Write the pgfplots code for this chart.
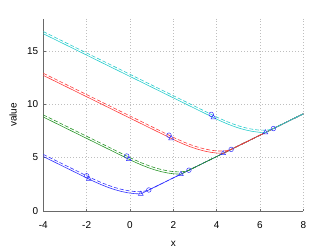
\documentclass[border=0pt]{standalone}
\usepackage{pgfplots}
\pgfplotsset{compat=1.18}
\usepackage{fontspec}
\setmainfont{Liberation Sans}
\definecolor{cblue}{RGB}{50,50,255}
\definecolor{cgreen}{RGB}{40,150,40}
\definecolor{cred}{RGB}{255,60,60}
\definecolor{ccyan}{RGB}{40,205,205}
\definecolor{caxis}{RGB}{105,105,105}
\definecolor{cgrid}{RGB}{190,190,190}
\begin{document}
\begin{tikzpicture}
\path[use as bounding box] (-43.3bp,-41bp) rectangle (292.7bp,211bp);
\begin{axis}[
  scale only axis, width=260bp, height=192.2bp,
  xmin=-4, xmax=8, ymin=0, ymax=18,
  axis x line=bottom, axis y line=left,
  axis line style={caxis, line width=0.6bp, -},
  xtick={-4,-2,0,2,4,6,8}, xticklabels={-4,-2,0,2,4,6,8},
  ytick={0,5,10,15}, yticklabels={0,5,10,15},
  tick align=inside, major tick length=2.5bp,
  tick style={caxis, line width=0.5bp},
  grid=major,
  major grid style={cgrid, line width=0.5bp, dash pattern=on 1bp off 2bp},
  font=\fontsize{10}{12}\selectfont,
  xticklabel style={yshift=-7.5bp},
  yticklabel style={xshift=-1.5bp},
  xlabel={x}, ylabel={value},
  every axis x label/.style={at={(axis description cs:0.5,0)}, anchor=center, yshift=-33bp},
  every axis y label/.style={at={(axis description cs:-0.1165,0.5)}, rotate=90, anchor=center},
  clip=false,
]
% blue
\addplot[cblue, line width=0.6bp] coordinates {(-4,5.1) (-1.9,3.0) (-1.6,2.71) (-1.3,2.444) (-1.0,2.205) (-0.7,2.0) (-0.4,1.832) (-0.1,1.706) (0.2,1.627) (0.5,1.6) (8,9.1)};
\addplot[cblue, line width=0.6bp, dash pattern=on 4bp off 2bp] coordinates {(-4,5.3) (-2.0,3.3) (-1.9,3.2) (-1.6,2.91) (-1.3,2.644) (-1.0,2.405) (-0.7,2.2) (-0.4,2.032) (-0.1,1.906) (0.2,1.827) (0.45,1.815) (0.65,1.85) (0.87,1.97) (8,9.1)};
% green
\addplot[cgreen, line width=0.6bp] coordinates {(-4,8.8) (-0.05,4.85) (0.25,4.56) (0.55,4.294) (0.85,4.055) (1.15,3.85) (1.45,3.682) (1.75,3.556) (2.05,3.477) (2.35,3.45) (8,9.1)};
\addplot[cgreen, line width=0.6bp, dash pattern=on 4bp off 2bp] coordinates {(-4,9.0) (-0.15,5.15) (-0.05,5.05) (0.25,4.76) (0.55,4.494) (0.85,4.255) (1.15,4.05) (1.45,3.882) (1.75,3.756) (2.05,3.677) (2.3,3.665) (2.5,3.70) (2.72,3.82) (8,9.1)};
% red
\addplot[cred, line width=0.6bp] coordinates {(-4,12.7) (1.9,6.8) (2.2,6.51) (2.5,6.244) (2.8,6.005) (3.1,5.8) (3.4,5.632) (3.7,5.506) (4.0,5.427) (4.3,5.4) (8,9.1)};
\addplot[cred, line width=0.6bp, dash pattern=on 4bp off 2bp] coordinates {(-4,12.9) (1.8,7.1) (1.9,7.0) (2.2,6.71) (2.5,6.444) (2.8,6.205) (3.1,6.0) (3.4,5.832) (3.7,5.706) (4.0,5.627) (4.25,5.615) (4.45,5.65) (4.67,5.77) (8,9.1)};
% cyan
\addplot[ccyan, line width=0.6bp] coordinates {(-4,16.6) (3.85,8.75) (4.15,8.46) (4.45,8.194) (4.75,7.955) (5.05,7.75) (5.35,7.582) (5.65,7.456) (5.95,7.377) (6.25,7.35) (8,9.1)};
\addplot[ccyan, line width=0.6bp, dash pattern=on 4bp off 2bp] coordinates {(-4,16.8) (3.75,9.05) (3.85,8.95) (4.15,8.66) (4.45,8.394) (4.75,8.155) (5.05,7.95) (5.35,7.782) (5.65,7.656) (5.95,7.577) (6.2,7.565) (6.4,7.6) (6.62,7.72) (8,9.1)};
% markers
\addplot[only marks, mark=triangle, mark size=2.8bp, mark options={cblue, line width=0.5bp, solid}] coordinates {(-1.9,3.0) (0.5,1.6) (-0.05,4.85) (2.35,3.45) (1.9,6.8) (4.3,5.4) (3.85,8.75) (6.25,7.35)};
\addplot[only marks, mark=o, mark size=2.3bp, mark options={cblue, line width=0.5bp, solid}] coordinates {(-2.0,3.3) (0.87,1.97) (-0.15,5.15) (2.72,3.82) (1.8,7.1) (4.67,5.77) (3.75,9.05) (6.62,7.72)};
\end{axis}
\end{tikzpicture}
\end{document}
